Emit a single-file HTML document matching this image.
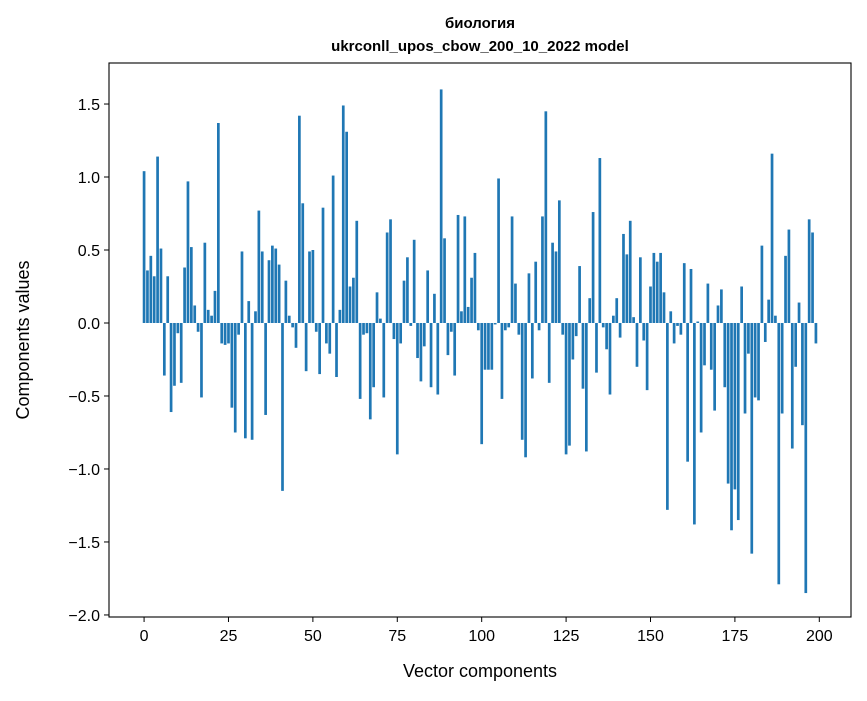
<!DOCTYPE html>
<html><head><meta charset="utf-8"><style>
body{margin:0;background:#fff;}
svg text{font-family:"Liberation Sans","DejaVu Sans",sans-serif;fill:#000;}
</style></head><body>
<svg id="chart" width="867" height="696" xmlns="http://www.w3.org/2000/svg">
<g id="bars"></g>
<rect x="109" y="63" width="742" height="554" fill="none" stroke="#000" stroke-width="1.1"/>
<g id="xticks"></g>
<g id="yticks"></g>
<text x="480" y="28" text-anchor="middle" font-size="15" font-weight="bold">биология</text>
<text x="480" y="51" text-anchor="middle" font-size="15" font-weight="bold">ukrconll_upos_cbow_200_10_2022 model</text>
<text x="480" y="677" text-anchor="middle" font-size="18">Vector components</text>
<text transform="translate(29,340) rotate(-90)" text-anchor="middle" font-size="18">Components values</text>
</svg>
<script>
const values = [1.04,0.36,0.46,0.32,1.14,0.51,-0.36,0.32,-0.61,-0.43,-0.07,-0.41,0.38,0.97,0.52,0.12,-0.06,-0.51,0.55,0.09,0.05,0.22,1.37,-0.14,-0.15,-0.14,-0.58,-0.75,-0.08,0.49,-0.79,0.15,-0.80,0.08,0.77,0.49,-0.63,0.43,0.53,0.51,0.40,-1.15,0.29,0.05,-0.03,-0.17,1.42,0.82,-0.33,0.49,
0.50,-0.06,-0.35,0.79,-0.14,-0.21,1.01,-0.37,0.09,1.49,1.31,0.25,0.31,0.70,-0.52,-0.08,-0.07,-0.66,-0.44,0.21,0.03,-0.51,0.62,0.71,-0.11,-0.90,-0.14,0.29,0.45,-0.02,0.57,-0.24,-0.40,-0.16,0.36,-0.44,0.20,-0.49,1.60,0.58,-0.22,-0.06,-0.36,0.74,0.08,0.73,0.11,0.31,0.48,-0.05,
-0.83,-0.32,-0.32,-0.32,-0.01,0.99,-0.52,-0.05,-0.03,0.73,0.27,-0.08,-0.80,-0.92,0.34,-0.38,0.42,-0.05,0.73,1.45,-0.41,0.55,0.49,0.84,-0.08,-0.90,-0.84,-0.25,-0.09,0.39,-0.45,-0.88,0.17,0.76,-0.34,1.13,-0.03,-0.18,-0.49,0.05,0.17,-0.10,0.61,0.47,0.70,0.04,-0.30,0.45,-0.12,-0.46,
0.25,0.48,0.42,0.48,0.21,-1.28,0.08,-0.14,-0.02,-0.08,0.41,-0.95,0.37,-1.38,0.01,-0.75,-0.29,0.27,-0.32,-0.60,0.12,0.23,-0.44,-1.10,-1.42,-1.14,-1.35,0.25,-0.62,-0.21,-1.58,-0.51,-0.53,0.53,-0.13,0.16,1.16,0.05,-1.79,-0.62,0.46,0.64,-0.86,-0.30,0.14,-0.70,-1.85,0.71,0.62,-0.14];
const xTicks = [0,25,50,75,100,125,150,175,200];
const yTicks = [-2.0,-1.5,-1.0,-0.5,0.0,0.5,1.0,1.5];
const yTickLabels = ["\u22122.0","\u22121.5","\u22121.0","\u22120.5","0.0","0.5","1.0","1.5"];

const NS="http://www.w3.org/2000/svg";
const L=109,R=851,T=63,B=617;
const xmin=-10.39,xmax=209.39,ymin=-2.014,ymax=1.781;
function xs(v){return L+(v-xmin)/(xmax-xmin)*(R-L);}
function ys(v){return B-(v-ymin)/(ymax-ymin)*(B-T);}
const bars=document.getElementById('bars');
values.forEach((v,i)=>{
  const r=document.createElementNS(NS,'rect');
  const x0=xs(i-0.4),x1=xs(i+0.4);
  const y0=ys(Math.max(v,0)),y1=ys(Math.min(v,0));
  r.setAttribute('x',x0);r.setAttribute('width',x1-x0);
  r.setAttribute('y',y0);r.setAttribute('height',Math.max(y1-y0,0.3));
  r.setAttribute('fill','#1f77b4');
  
  
  bars.appendChild(r);
});
const xg=document.getElementById('xticks');
xTicks.forEach(t=>{
  const x=xs(t);
  const l=document.createElementNS(NS,'line');
  l.setAttribute('x1',x);l.setAttribute('x2',x);l.setAttribute('y1',B);l.setAttribute('y2',B+5);
  l.setAttribute('stroke','#000');
  
  
  xg.appendChild(l);
  const tx=document.createElementNS(NS,'text');
  tx.setAttribute('x',x);tx.setAttribute('y',B+24);tx.setAttribute('text-anchor','middle');tx.setAttribute('font-size','16');
  tx.textContent=t;
  
  
  xg.appendChild(tx);
});
const yg=document.getElementById('yticks');
yTicks.forEach((t,k)=>{
  const y=ys(t);
  const l=document.createElementNS(NS,'line');
  l.setAttribute('x1',L-5);l.setAttribute('x2',L);l.setAttribute('y1',y);l.setAttribute('y2',y);
  l.setAttribute('stroke','#000');
  
  
  yg.appendChild(l);
  const tx=document.createElementNS(NS,'text');
  tx.setAttribute('x',L-9);tx.setAttribute('y',y+6);tx.setAttribute('text-anchor','end');tx.setAttribute('font-size','16');
  tx.textContent=yTickLabels[k];
  
  
  yg.appendChild(tx);
});
</script>
</body></html>
